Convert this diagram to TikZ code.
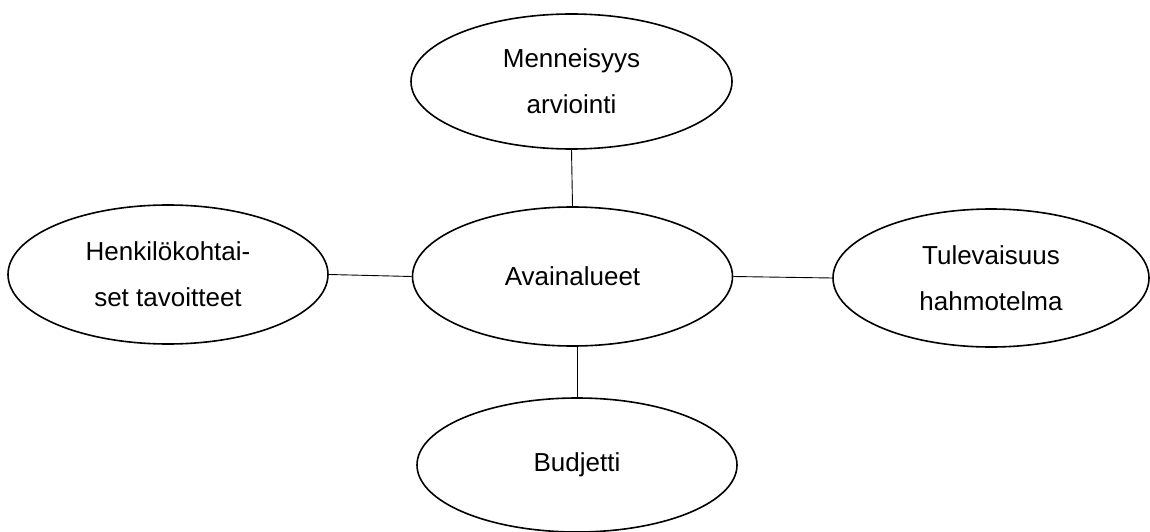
\documentclass[tikz,border=0pt]{standalone}
\usepackage{fontspec}
\setmainfont{Liberation Sans}
\usetikzlibrary{shapes.geometric}
\begin{document}
\begin{tikzpicture}[x=1pt,y=1pt,
  topic/.style={ellipse, draw, line width=1.6pt, inner sep=0pt, align=center,
    font=\fontsize{26}{46}\selectfont},
  link/.style={line width=0.9pt}]
\useasboundingbox (0,0) rectangle (1150,531);
% central topic and its four branches
\node[topic, minimum width=320pt, minimum height=139pt] (key) at (572.5,254.5) {Avainalueet};
\node[topic, minimum width=321pt, minimum height=135pt] (past) at (571.5,449.5) {Menneisyys\\arviointi};
\node[topic, minimum width=320pt, minimum height=139pt] (pers) at (168,256.5) {Henkilökohtai-\\set tavoitteet};
\node[topic, minimum width=316pt, minimum height=138pt] (fut) at (991,253) {Tulevaisuus\\hahmotelma};
\node[topic, minimum width=320pt, minimum height=134pt] (budget) at (577,66) {Budjetti};
% connectors
\draw[link] (past.south) -- (key.north);
\draw[link] (pers.east) -- (key.west);
\draw[link] (key.east) -- (fut.west);
\draw[link] (key.south -| budget.north) -- (budget.north);
\end{tikzpicture}
\end{document}
